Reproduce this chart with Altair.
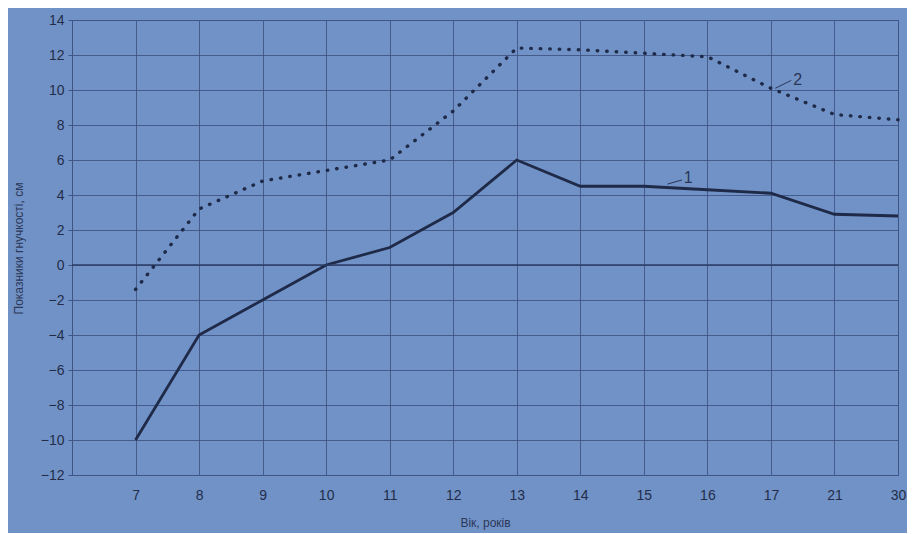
import altair as alt
import pandas as pd

ages = ["7", "8", "9", "10", "11", "12", "13", "14", "15", "16", "17", "21", "30"]
series1 = [-10, -4, -2, 0, 1, 3, 6, 4.5, 4.5, 4.3, 4.1, 2.9, 2.8]
series2 = [-1.4, 3.2, 4.8, 5.4, 6.0, 8.8, 12.4, 12.3, 12.1, 11.9, 10.1, 8.6, 8.3]
y_ticks = list(range(-12, 15, 2))

# curve labels and their leader lines
label_text = ["1", "2"]
label_x = [9.70, 11.42]
label_y = [5.0, 10.6]
leader_x1 = [9.37, 11.07]
leader_x2 = [9.60, 11.32]
leader_y1 = [4.62, 10.1]
leader_y2 = [4.86, 10.55]

BG = "#7192c6"
INK = "#1f2a48"
GRID = "#3f5584"

rows = []
for i, a in enumerate(ages):
    rows.append({"idx": i + 1, "age": a, "v": series1[i], "s": "1"})
    rows.append({"idx": i + 1, "age": a, "v": series2[i], "s": "2"})
df = pd.DataFrame(rows)

label_expr = "[''," + ",".join("'%s'" % a for a in ages) + "][datum.value]"

x_axis = alt.Axis(
    title="Вік, років",
    values=list(range(0, len(ages) + 1)),
    labelExpr=label_expr,
    labelFlush=False,
    labelOverlap=False,
    grid=True,
    ticks=False,
    domain=False,
    labelPadding=13,
    titlePadding=15,
)
y_axis = alt.Axis(
    title="Показники гнучкості, см",
    values=y_ticks,
    tickCount=len(y_ticks),
    labelOverlap=False,
    labelFlush=False,
    grid=True,
    tickSize=4,
    labelPadding=4,
    titleX=-54,
    titleY=228,
    titleAngle=270,
    titleAlign="center",
    titleBaseline="middle",
)
x_scale = alt.Scale(domain=[0, len(ages)], nice=False, zero=False)
y_scale = alt.Scale(domain=[-12, 14], nice=False, zero=False)

base = alt.Chart(df)

line1 = base.transform_filter(alt.datum.s == "1").mark_line(
    color=INK, strokeWidth=2.8
).encode(x=alt.X("idx:Q", scale=x_scale, axis=x_axis),
         y=alt.Y("v:Q", scale=y_scale, axis=y_axis))

zero = alt.Chart(pd.DataFrame({"v": [0]})).mark_rule(color="#2c3d66", strokeWidth=1.6).encode(
    y=alt.Y("v:Q", scale=y_scale, axis=y_axis)
)

line2 = base.transform_filter(alt.datum.s == "2").mark_line(
    color=INK, strokeWidth=3.4, strokeDash=[0.5, 9], strokeCap="round"
).encode(x=alt.X("idx:Q", scale=x_scale, axis=x_axis),
         y=alt.Y("v:Q", scale=y_scale, axis=y_axis))

ann = pd.DataFrame({"t": label_text, "idx": label_x, "v": label_y,
                    "x1": leader_x1, "x2": leader_x2, "y1": leader_y1, "y2": leader_y2})
texts = alt.Chart(ann).mark_text(fontSize=16, color="#2a3656", font="Liberation Sans").encode(
    x=alt.X("idx:Q", scale=x_scale, axis=x_axis),
    y=alt.Y("v:Q", scale=y_scale, axis=y_axis), text="t:N"
)
leaders = alt.Chart(ann).mark_rule(color="#2a3656", strokeWidth=1).encode(
    x=alt.X("x1:Q", scale=x_scale, axis=x_axis), x2="x2:Q",
    y=alt.Y("y1:Q", scale=y_scale, axis=y_axis), y2="y2:Q"
)

chart = alt.layer(line1, zero, line2, leaders, texts).properties(
    width=826,
    height=455,
    padding={"left": 64, "top": 12, "right": 9, "bottom": 58},
    autosize=alt.AutoSizeParams(type="none"),
    background=BG,
).configure_view(
    stroke=GRID, strokeWidth=1
).configure_axis(
    gridColor=GRID,
    gridWidth=1,
    gridOpacity=0.9,
    domainColor=GRID,
    tickColor=GRID,
    labelColor="#232d4a",
    labelFont="Liberation Sans",
    labelFontSize=14,
    titleFont="Liberation Sans",
    titleFontSize=12,
    titleFontWeight="normal",
    titleColor="#2c3858",
)

chart.save("out.html", embed_options={"renderer": "svg", "actions": False})
